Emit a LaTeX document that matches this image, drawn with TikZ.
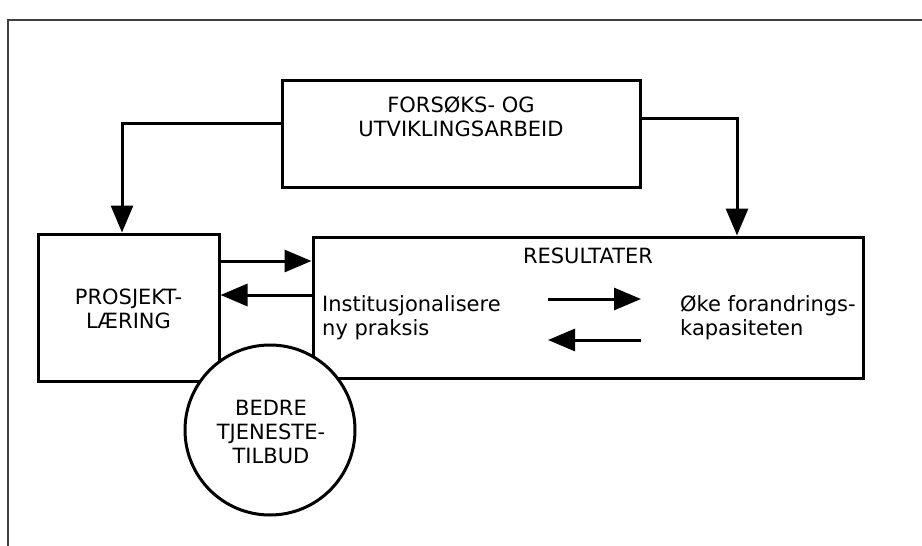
\documentclass[tikz,border=0pt]{standalone}
\usepackage{fontspec}
\setmainfont{DejaVu Sans}
\usetikzlibrary{arrows.meta,calc}
\begin{document}
\begin{tikzpicture}[x=1pt,y=-1pt,
  box/.style={draw,line width=3pt,inner sep=0pt,fill=white},
  txt/.style={inner sep=0pt,align=center,font=\fontsize{21}{24}\selectfont},
  ltxt/.style={inner sep=0pt,align=left,anchor=west,font=\fontsize{21}{24}\selectfont},
  arr/.style={line width=3pt,-{Triangle[length=27pt,width=22pt]}},
  frame/.style={line width=1.6pt,draw=black!75}]
\useasboundingbox (0,0) rectangle (922,546);
\clip (0,0) rectangle (922,546);
\draw[frame] (8,600) -- (8,20) -- (960,20);
% boxes
\node[box,minimum width=358pt,minimum height=107pt] (top) at (461,133.5) {};
\node[txt] (toptxt) at (461,117) {FORSØKS- OG\\UTVIKLINGSARBEID};
\node[box,minimum width=181pt,minimum height=147pt] (proj) at (128.5,307.5) {};
\node[txt] (projtxt) at (128.5,309) {PROSJEKT-\\LÆRING};
\node[box,minimum width=550pt,minimum height=141pt] (res) at (588,307.5) {};
\node[txt] (restxt) at (588,256) {RESULTATER};
\node[ltxt] (inst) at (322,318) {Institusjonalisere\\ny praksis};
\node[ltxt] (oke) at (680,318) {Øke forandrings-\\kapasiteten};
% connectors
\draw[arr] ([yshift=10.5pt]top.west) -| ([xshift=-6.5pt]proj.north);
\draw[arr] ([yshift=15.5pt]top.east) -| ([xshift=149pt]res.north);
\draw[arr] ([yshift=46.5pt]proj.east) -- ([yshift=46.5pt]proj.east -| res.west);
\draw[arr] ([yshift=12.5pt]proj.east -| res.west) -- ([yshift=12.5pt]proj.east);
\coordinate (r1) at (548,299);
\coordinate (r2) at (641,299);
\coordinate (l1) at (641,340);
\coordinate (l2) at (548,340);
\draw[arr] (r1) -- (r2);
\draw[arr] (l1) -- (l2);
% circle
\node[box,circle,minimum size=170pt] (circ) at (270,430) {};
\node[txt] (circtxt) at (271,432) {BEDRE\\TJENESTE-\\TILBUD};
\end{tikzpicture}
\end{document}
